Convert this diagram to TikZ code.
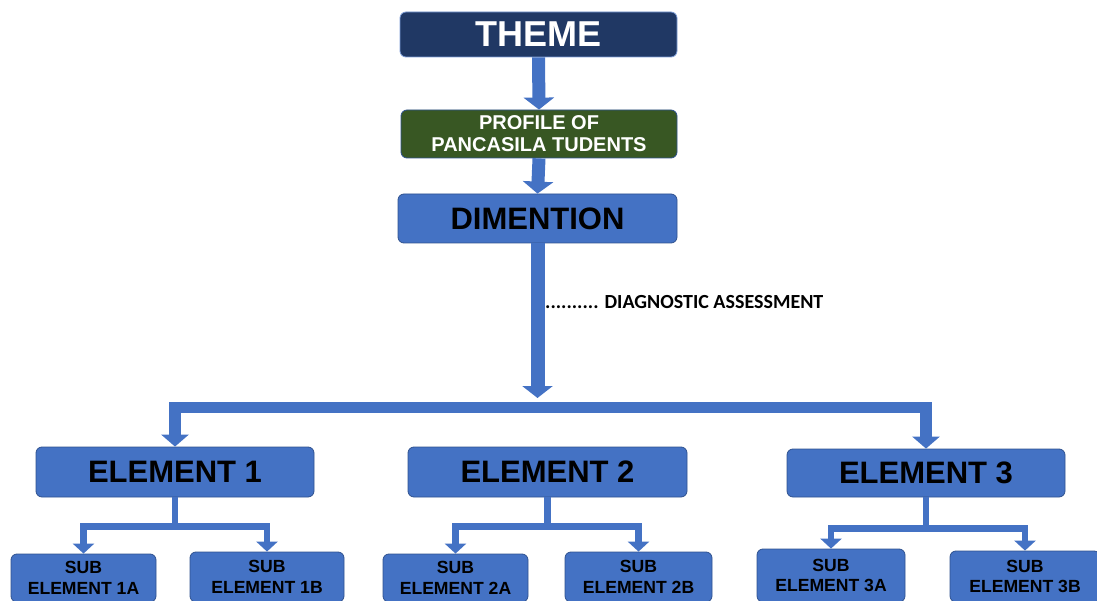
\documentclass[tikz,border=0pt]{standalone}
\usepackage{fontspec}
\setmainfont{Liberation Sans}
\newfontfamily\calib{Carlito}
\usetikzlibrary{arrows.meta,calc}
\definecolor{blu}{HTML}{4472C4}
\definecolor{bordc}{HTML}{2F528F}
\definecolor{navy}{HTML}{203864}
\definecolor{grn}{HTML}{385723}
\tikzset{
  box/.style={rectangle, rounded corners=6pt, draw=bordc, line width=0.8pt, fill=blu,
    inner sep=0pt, align=center, font=\bfseries},
  bigarrow/.style={draw=blu, line width=13pt, line join=miter, -{Triangle[width=30pt,length=12pt]}},
  elarrow/.style={draw=blu, line width=11.5pt, line join=miter, -{Triangle[width=27pt,length=12pt]}},
  subarrow/.style={draw=blu, line width=6.5pt, line join=miter, -{Triangle[width=21pt,length=10pt]}},
  stub/.style={draw=blu, line width=6.5pt}
}
\begin{document}
\begin{tikzpicture}[x=1pt,y=-1pt]
\useasboundingbox (0,0) rectangle (1097,601);
\clip (0,0) rectangle (1097,601);
% top chain
\node[box, fill=navy, draw=blu!70!white, text=white, minimum width=277pt, minimum height=45pt,
  font=\bfseries\fontsize{36}{39}\selectfont] (theme) at (538.5,34.5) {THEME};
\node[box, fill=grn, draw=bordc, text=white, minimum width=276pt, minimum height=48pt,
  font=\bfseries\fontsize{20}{22}\selectfont] (profile) at (539,134) {PROFILE OF\\PANCASILA TUDENTS};
\node[box, minimum width=279pt, minimum height=49pt,
  font=\bfseries\fontsize{31}{34}\selectfont] (dim) at (537.5,218.5) {DIMENTION};
% elements
\tikzset{elbox/.style={box, minimum width=278pt, minimum height=50pt, font=\bfseries\fontsize{31}{34}\selectfont}}
\node[elbox] (e1) at (175,472) {ELEMENT 1};
\node[elbox, minimum width=279pt] (e2) at (547.5,472) {ELEMENT 2};
\node[elbox, minimum height=48pt] (e3) at (926,473) {ELEMENT 3};
% sub elements
\tikzset{subbox/.style={box, minimum height=48pt, font=\bfseries\fontsize{17.6}{20.5}\selectfont}}
\node[subbox, minimum width=145pt] (s1a) at (83.5,578) {SUB\\ELEMENT 1A};
\node[subbox, minimum width=154pt, minimum height=50pt] (s1b) at (267,577) {SUB\\ELEMENT 1B};
\node[subbox, minimum width=145pt] (s2a) at (455.5,578) {SUB\\ELEMENT 2A};
\node[subbox, minimum width=147pt, minimum height=50pt] (s2b) at (638.5,577) {SUB\\ELEMENT 2B};
\node[subbox, minimum width=148pt, minimum height=53pt] (s3a) at (831,575.5) {SUB\\ELEMENT 3A};
\node[subbox, minimum width=150pt, minimum height=51pt] (s3b) at (1025,576.5) {SUB\\ELEMENT 3B};
% label
\node[anchor=base west, inner sep=0pt, font=\calib\bfseries\fontsize{20}{22}\selectfont] (diag) at (545,309)
  {.......... DIAGNOSTIC ASSESSMENT};
% arrows top
\draw[bigarrow] (theme.south) -- (profile.north);
\draw[bigarrow] (profile.south) -- (dim.north);
\coordinate (bus) at (539,407.5);
\coordinate (bustop) at (539,398);
\draw[bigarrow, line width=14pt] (dim.south) -- (dim.south |- bustop);
\draw[elarrow] (bus) -| (e1.north);
\draw[elarrow] (bus) -| (e3.north);
% sub connectors
\coordinate (j1) at ($(e1.south)+(0,29)$);
\coordinate (j2) at ($(e2.south)+(0,29)$);
\coordinate (j3) at ($(e3.south)+(0,31)$);
\draw[stub] (e1.south) -- (j1);
\draw[subarrow] (j1) -| (s1a.north);
\draw[subarrow] (j1) -| (s1b.north);
\draw[stub] (e2.south) -- (j2);
\draw[subarrow] (j2) -| (s2a.north);
\draw[subarrow] (j2) -| (s2b.north);
\draw[stub] (e3.south) -- (j3);
\draw[subarrow] (j3) -| (s3a.north);
\draw[subarrow] (j3) -| (s3b.north);
\end{tikzpicture}
\end{document}
